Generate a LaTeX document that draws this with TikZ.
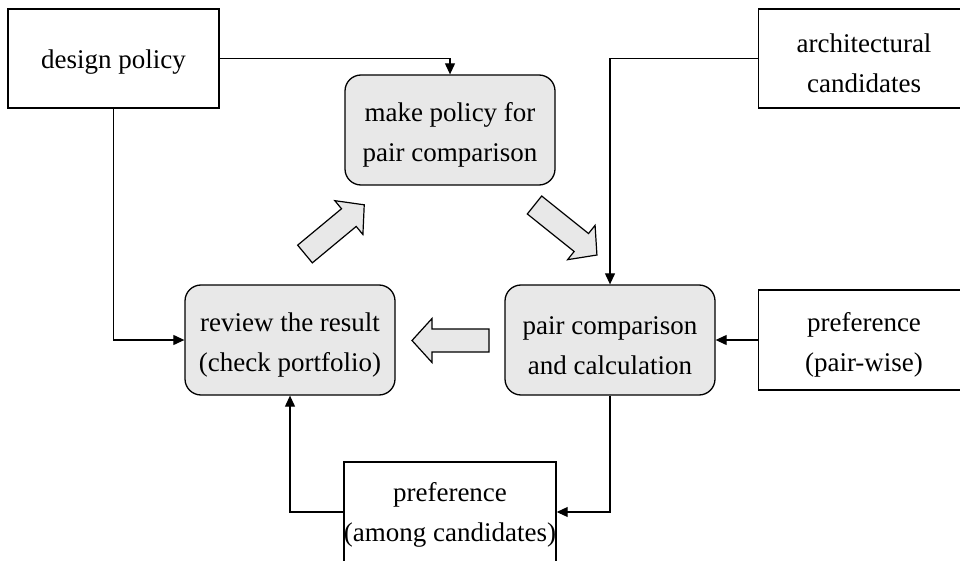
\documentclass[tikz,border=0pt]{standalone}
\usepackage{fontspec}
\setmainfont{Liberation Serif}
\usetikzlibrary{arrows.meta}
\definecolor{boxgray}{RGB}{232,232,232}
\newcommand{\tstrut}{\rule{0pt}{29pt}}
\tikzset{
  plain/.style={draw=black, line width=1.3pt, fill=white, minimum width=211pt, minimum height=99pt, inner sep=0pt, align=center, font=\fontsize{27}{40}\selectfont},
  proc/.style={draw=black, line width=1.3pt, fill=boxgray, rounded corners=16pt, minimum width=210pt, minimum height=110pt, inner sep=0pt, align=center, font=\fontsize{27}{40}\selectfont},
  conn/.style={draw=black, line width=1.1pt, -{Triangle[length=11pt,width=10pt]}},
  blockarrow/.style={draw=black, line width=1.2pt, fill=boxgray, line join=miter},
}
\newcommand{\blockarr}[4]{% x, y (tail middle), angle, length
  \begin{scope}[shift={(#1,#2)}, rotate=#3]
    \path[blockarrow] (0,-11.5) -- (#4-20,-11.5) -- (#4-20,-22) -- (#4,0) -- (#4-20,22) -- (#4-20,11.5) -- (0,11.5) -- cycle;
  \end{scope}}
\begin{document}
\begin{tikzpicture}[x=1pt,y=-1pt]
\clip (0,0) rectangle (960,561);
\fill[white] (0,0) rectangle (960,561);

\node[plain] (design) at (113.5,58.5) {\rule{0pt}{25pt}design policy};
\node[plain] (arch) at (864,58.5) {\tstrut architectural\\candidates};
\node[proc] (make) at (450,130) {\tstrut make policy for\\pair comparison};
\node[proc] (review) at (290,340) {\tstrut review the result\\(check portfolio)};
\node[proc] (pair) at (610,340) {\tstrut pair comparison\\and calculation};
\node[plain, minimum height=100pt] (pw) at (864,340) {\tstrut preference\\(pair-wise)};
\node[plain, minimum width=210pt, minimum height=100pt] (among) at (450,512) {\rule{0pt}{25pt}preference\\(among candidates)};

\draw[conn] (design.east) -| (make.north);
\draw[conn] (design.south) |- (review.west);
\draw[conn] (arch.west) -| (pair.north);
\draw[conn] (pw.west) -- (pair.east);
\draw[conn] (pair.south) |- (among.east);
\draw[conn] (among.west) -| (review.south);

\blockarr{305}{254}{39.7}{77}
\blockarr{534.5}{205}{-38.7}{80}
\blockarr{489}{340.5}{180}{77}
\end{tikzpicture}
\end{document}
